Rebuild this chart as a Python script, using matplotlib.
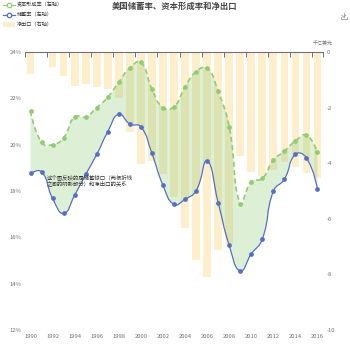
import matplotlib.pyplot as plt
from matplotlib.path import Path
from matplotlib.patches import PathPatch, Rectangle
from matplotlib.lines import Line2D
import numpy as np

plt.rcParams['font.family'] = ['Noto Sans CJK SC', 'DejaVu Sans']

# data
years = ['1990', '1991', '1992', '1993', '1994', '1995', '1996', '1997', '1998',
         '1999', '2000', '2001', '2002', '2003', '2004', '2005', '2006', '2007',
         '2008', '2009', '2010', '2011', '2012', '2013', '2014', '2015', '2016']
capital_formation = [21.45, 20.1, 20.0, 20.3, 21.2, 21.2, 21.6, 22.05, 22.7,
                     23.32, 23.55, 22.4, 21.6, 21.64, 22.5, 23.15, 23.3, 22.3,
                     20.77, 17.46, 18.4, 18.54, 19.33, 19.72, 20.16, 20.41, 19.67]
saving_rate = [18.76, 18.83, 17.68, 17.03, 17.82, 18.72, 19.58, 20.56, 21.32,
               20.89, 20.77, 19.62, 18.25, 17.42, 17.64, 18.01, 19.29, 17.5,
               15.66, 14.55, 15.28, 15.92, 17.99, 18.51, 19.58, 19.43, 18.08]
net_exports = [-0.80, 0.0, -0.53, -0.85, -1.22, -1.15, -1.27, -1.34, -1.65,
               -2.89, -4.04, -3.91, -4.4, -5.2, -6.33, -7.48, -8.08, -7.14,
               -6.9, -3.74, -4.33, -4.46, -4.26, -3.95, -4.15, -4.36, -4.52]
left_ticks = [12, 14, 16, 18, 20, 22, 24]
right_ticks = [-10, -8, -6, -4, -2, 0]

GREEN = '#91cc75'
BLUE = '#5470c6'
YELLOW = '#fac858'
AXIS = '#6E7079'

W = 350
fig = plt.figure(figsize=(3.5, 3.5), dpi=100)


def fx(px):
    return px / W


def fy(py):
    return 1 - py / W


ax = fig.add_axes([fx(25), fy(330), fx(323) - fx(25), fy(52) - fy(330)])
ax2 = ax.twinx()
ax.set_zorder(ax2.get_zorder() + 1)
ax.patch.set_visible(False)

x = np.arange(len(years))

# bars on right axis
ax2.bar(x, net_exports, width=0.7, color=YELLOW, alpha=0.3, linewidth=0)
ax2.set_ylim(-10, 0)
ax2.set_yticks(right_ticks)
ax2.set_yticklabels([str(v) for v in right_ticks])


# echarts-like smoothing of a polyline, computed in pixel scale
def smooth_path(xs, ys, sx=11.04, sy=23.15, s=0.5):
    px = np.asarray(xs, float) * sx
    py = np.asarray(ys, float) * sy
    n = len(px)
    verts = [(px[0], py[0])]
    codes = [Path.MOVETO]
    cp_out = (px[0], py[0])
    for i in range(1, n):
        xi, yi = px[i], py[i]
        if i < n - 1:
            vx = px[i + 1] - px[i - 1]
            vy = py[i + 1] - py[i - 1]
            d0 = np.hypot(xi - px[i - 1], yi - py[i - 1])
            d1 = np.hypot(px[i + 1] - xi, py[i + 1] - yi)
            r = d1 / (d0 + d1)
            cp_in = (xi - vx * s * (1 - r), yi - vy * s * (1 - r))
            nxt = (xi + vx * s * r, yi + vy * s * r)
        else:
            cp_in = (xi, yi)
            nxt = None
        verts += [cp_out, cp_in, (xi, yi)]
        codes += [Path.CURVE4] * 3
        cp_out = nxt
    verts = [(a / sx, b / sy) for a, b in verts]
    return verts, codes


gv, gc = smooth_path(x, capital_formation)
bv, bc = smooth_path(x, saving_rate)

# shaded gap between the two lines
fill_verts = gv + bv[::-1] + [gv[0]]
fill_codes = gc + [Path.LINETO] + [Path.CURVE4] * (len(bv) - 1) + [Path.CLOSEPOLY]
ax.add_patch(PathPatch(Path(fill_verts, fill_codes), facecolor=GREEN, alpha=0.3,
                       edgecolor='none', zorder=1))

ax.add_patch(PathPatch(Path(gv, gc), facecolor='none', edgecolor=GREEN, lw=1.2,
                       linestyle=(0, (3, 2)), zorder=3))
ax.add_patch(PathPatch(Path(bv, bc), facecolor='none', edgecolor=BLUE, lw=0.9,
                       zorder=3))
ax.plot(x, capital_formation, 'o', ms=2.4, color=GREEN, zorder=4)
ax.plot(x, saving_rate, 'o', ms=2.4, color=BLUE, zorder=4)

ax.set_xlim(-0.5, len(years) - 0.5)
ax.set_ylim(12, 24)
ax.set_yticks(left_ticks)
ax.set_yticklabels([f'{v}%' for v in left_ticks])
ax.set_xticks(x[::2])
ax.set_xticklabels(years[::2])
ax.set_xticks(list(np.arange(-0.5, len(years) - 0.5, 2)) + [len(years) - 0.5], minor=True)

for a in (ax, ax2):
    for side in ('left', 'right', 'bottom'):
        a.spines[side].set_visible(False)
ax2.spines['top'].set_visible(False)
ax.spines['top'].set_color(AXIS)
ax.spines['top'].set_linewidth(0.8)

ax.tick_params(axis='x', which='major', length=0, labelsize=4.2, labelcolor=AXIS, pad=3)
ax.tick_params(axis='x', which='minor', top=True, bottom=False, direction='in',
               length=3.5, width=0.7, color=AXIS)
ax.tick_params(axis='y', length=0, labelsize=4.2, labelcolor=AXIS, pad=2.5)
ax2.tick_params(axis='y', length=0, labelsize=4.2, labelcolor=AXIS, pad=3)

ax.text(1.45, 18.47, '这个图反映的是储蓄缺口（两根折线\n之间的阴影部分）和净出口的关系',
        fontsize=3.9, color='#333333', linespacing=0.95, va='center', ha='left', zorder=5)

# title and axis name
fig.text(0.5, fy(6), '美国储蓄率、资本形成率和净出口', ha='center', va='center',
         fontsize=6, fontweight='bold', color='#464646')
fig.text(fx(323), fy(43), '千亿美元', ha='center', va='center', fontsize=3.6, color=AXIS)

# legend
for ly, col, lab in [(5, GREEN, '资本形成率（左轴）'), (14.5, BLUE, '储蓄率（左轴）')]:
    fig.add_artist(Line2D([fx(3), fx(15)], [fy(ly), fy(ly)], color=col, lw=0.9,
                          transform=fig.transFigure))
    fig.add_artist(Line2D([fx(9)], [fy(ly)], marker='o', ms=3.2, mfc='white', mec=col,
                          mew=0.9, transform=fig.transFigure))
    fig.text(fx(17), fy(ly), lab, va='center', ha='left', fontsize=3.7, color='#333333')
fig.add_artist(Rectangle((fx(3), fy(27)), fx(12), fx(5), facecolor=YELLOW, alpha=0.3,
                         edgecolor='none', transform=fig.transFigure))
fig.text(fx(17), fy(24.5), '净出口（右轴）', va='center', ha='left', fontsize=3.7, color='#333333')

# download icon
ic = '#888888'
for xs_, ys_ in [([343.7, 343.7], [12.7, 17.2]), ([341.7, 343.7, 345.7], [15.2, 17.2, 15.2]),
                 ([340.7, 340.7, 346.7, 346.7], [17, 19.3, 19.3, 17])]:
    fig.add_artist(Line2D([fx(v) for v in xs_], [fy(v) for v in ys_], color=ic, lw=0.5,
                          transform=fig.transFigure))

fig.savefig('out.png', dpi=100)
